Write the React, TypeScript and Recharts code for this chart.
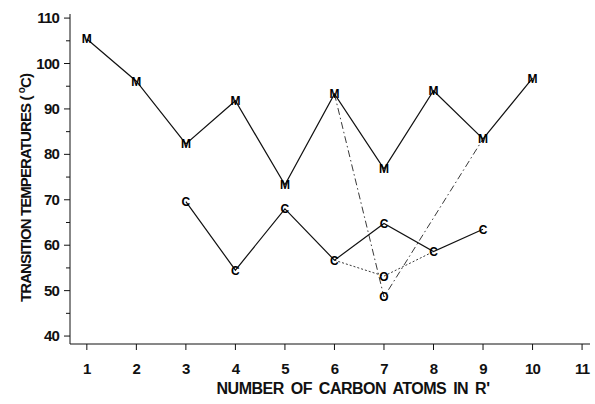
import { Line, LineChart, XAxis, YAxis } from "recharts";

const carbonAtoms = [1, 2, 3, 4, 5, 6, 7, 8, 9, 10];
const meltingTemps = [105.4, 96.1, 82.3, 91.8, 73.3, 93.3, 76.8, 94, 83.4, 96.8];

const clearingAtoms = [3, 4, 5, 6, 7, 8, 9];
const clearingTemps = [69.6, 54.5, 68, 56.7, 64.8, 58.6, 63.5];

const dottedAtoms = [6, 7, 8];
const dottedTemps = [56.7, 53.2, 58.6];

const dashDotAtoms = [6, 7, 9];
const dashDotTemps = [93.3, 48.6, 83.4];

const xTicks = [1, 2, 3, 4, 5, 6, 7, 8, 9, 10, 11];
const yTicks = [40, 45, 50, 55, 60, 65, 70, 75, 80, 85, 90, 95, 100, 105, 110];

const toRows = (xs: number[], ys: number[]) => xs.map((x, i) => ({ x, t: ys[i] }));

const FONT = "'Liberation Sans', Arial, sans-serif";

const letterDot = (letter: string, only?: number) => (props: any) => {
  const { cx, cy, payload, index } = props;
  if (only !== undefined && payload.x !== only) return <g key={index} />;
  return (
    <text
      key={index}
      x={cx}
      y={cy}
      dy={4.5}
      textAnchor="middle"
      fontSize={12}
      fontWeight="bold"
      fontFamily={FONT}
      fill="#000"
    >
      {letter}
    </text>
  );
};

const YTick = (props: any) => {
  const { x, y, payload } = props;
  const major = payload.value % 10 === 0;
  return (
    <g>
      <line x1={x - (major ? 6 : 4)} x2={x} y1={y} y2={y} stroke="#111" strokeWidth={1} />
      {major && (
        <text x={x - 11} y={y} dy={5} textAnchor="end" fontSize={15} fontWeight="bold" fontFamily={FONT} fill="#111" letterSpacing={-0.8}>
          {payload.value}
        </text>
      )}
    </g>
  );
};

const XTick = (props: any) => {
  const { x, y, payload } = props;
  return (
    <g>
      <line x1={x} x2={x} y1={y} y2={y + 6} stroke="#111" strokeWidth={1} />
      <text x={x} y={y + 25} dy={5} textAnchor="middle" fontSize={15} fontWeight="bold" fontFamily={FONT} fill="#111" letterSpacing={-0.8}>
        {payload.value}
      </text>
    </g>
  );
};

export default function App() {
  return (
    <div style={{ position: "absolute", left: 0, top: 0, width: 595, height: 404, background: "#fff" }}>
      <LineChart width={595} height={404} margin={{ top: 14, right: 5, left: 0, bottom: 0 }}>
        <XAxis
          dataKey="x"
          type="number"
          domain={[0.66, 11.16]}
          ticks={xTicks}
          tick={<XTick />}
          tickLine={false}
          tickSize={0}
          tickMargin={0}
          height={60}
          stroke="#111"
          allowDataOverflow
        />
        <YAxis
          type="number"
          domain={[38.25, 110.9]}
          ticks={yTicks}
          tick={<YTick />}
          tickLine={false}
          tickSize={0}
          tickMargin={0}
          width={70}
          stroke="#111"
          interval={0}
          allowDataOverflow
        />
        <Line
          data={toRows(dashDotAtoms, dashDotTemps)}
          dataKey="t"
          stroke="#222"
          strokeWidth={0.9}
          strokeDasharray="7 3 1.5 3"
          dot={letterDot("O", 7)}
          isAnimationActive={false}
        />
        <Line
          data={toRows(dottedAtoms, dottedTemps)}
          dataKey="t"
          stroke="#222"
          strokeWidth={0.9}
          strokeDasharray="2 2"
          dot={letterDot("O", 7)}
          isAnimationActive={false}
        />
        <Line
          data={toRows(carbonAtoms, meltingTemps)}
          dataKey="t"
          stroke="#111"
          strokeWidth={1.2}
          dot={letterDot("M")}
          isAnimationActive={false}
        />
        <Line
          data={toRows(clearingAtoms, clearingTemps)}
          dataKey="t"
          stroke="#111"
          strokeWidth={1.2}
          dot={letterDot("C")}
          isAnimationActive={false}
        />
      </LineChart>
      <div
        style={{
          position: "absolute",
          left: 25,
          top: 188,
          transform: "translate(-50%, -50%) rotate(-90deg)",
          whiteSpace: "nowrap",
          fontFamily: FONT,
          fontWeight: "bold",
          fontSize: 15,
          letterSpacing: -0.9,
          color: "#111",
        }}
      >
        TRANSITION TEMPERATURES ( <sup style={{ fontSize: 10 }}>o</sup>C)
      </div>
      <div
        style={{
          position: "absolute",
          left: 353,
          top: 389,
          transform: "translate(-50%, -50%)",
          whiteSpace: "nowrap",
          fontFamily: FONT,
          fontWeight: "bold",
          fontSize: 16,
          letterSpacing: -0.5,
          wordSpacing: 3,
          color: "#111",
        }}
      >
        NUMBER OF CARBON ATOMS IN R'
      </div>
    </div>
  );
}
